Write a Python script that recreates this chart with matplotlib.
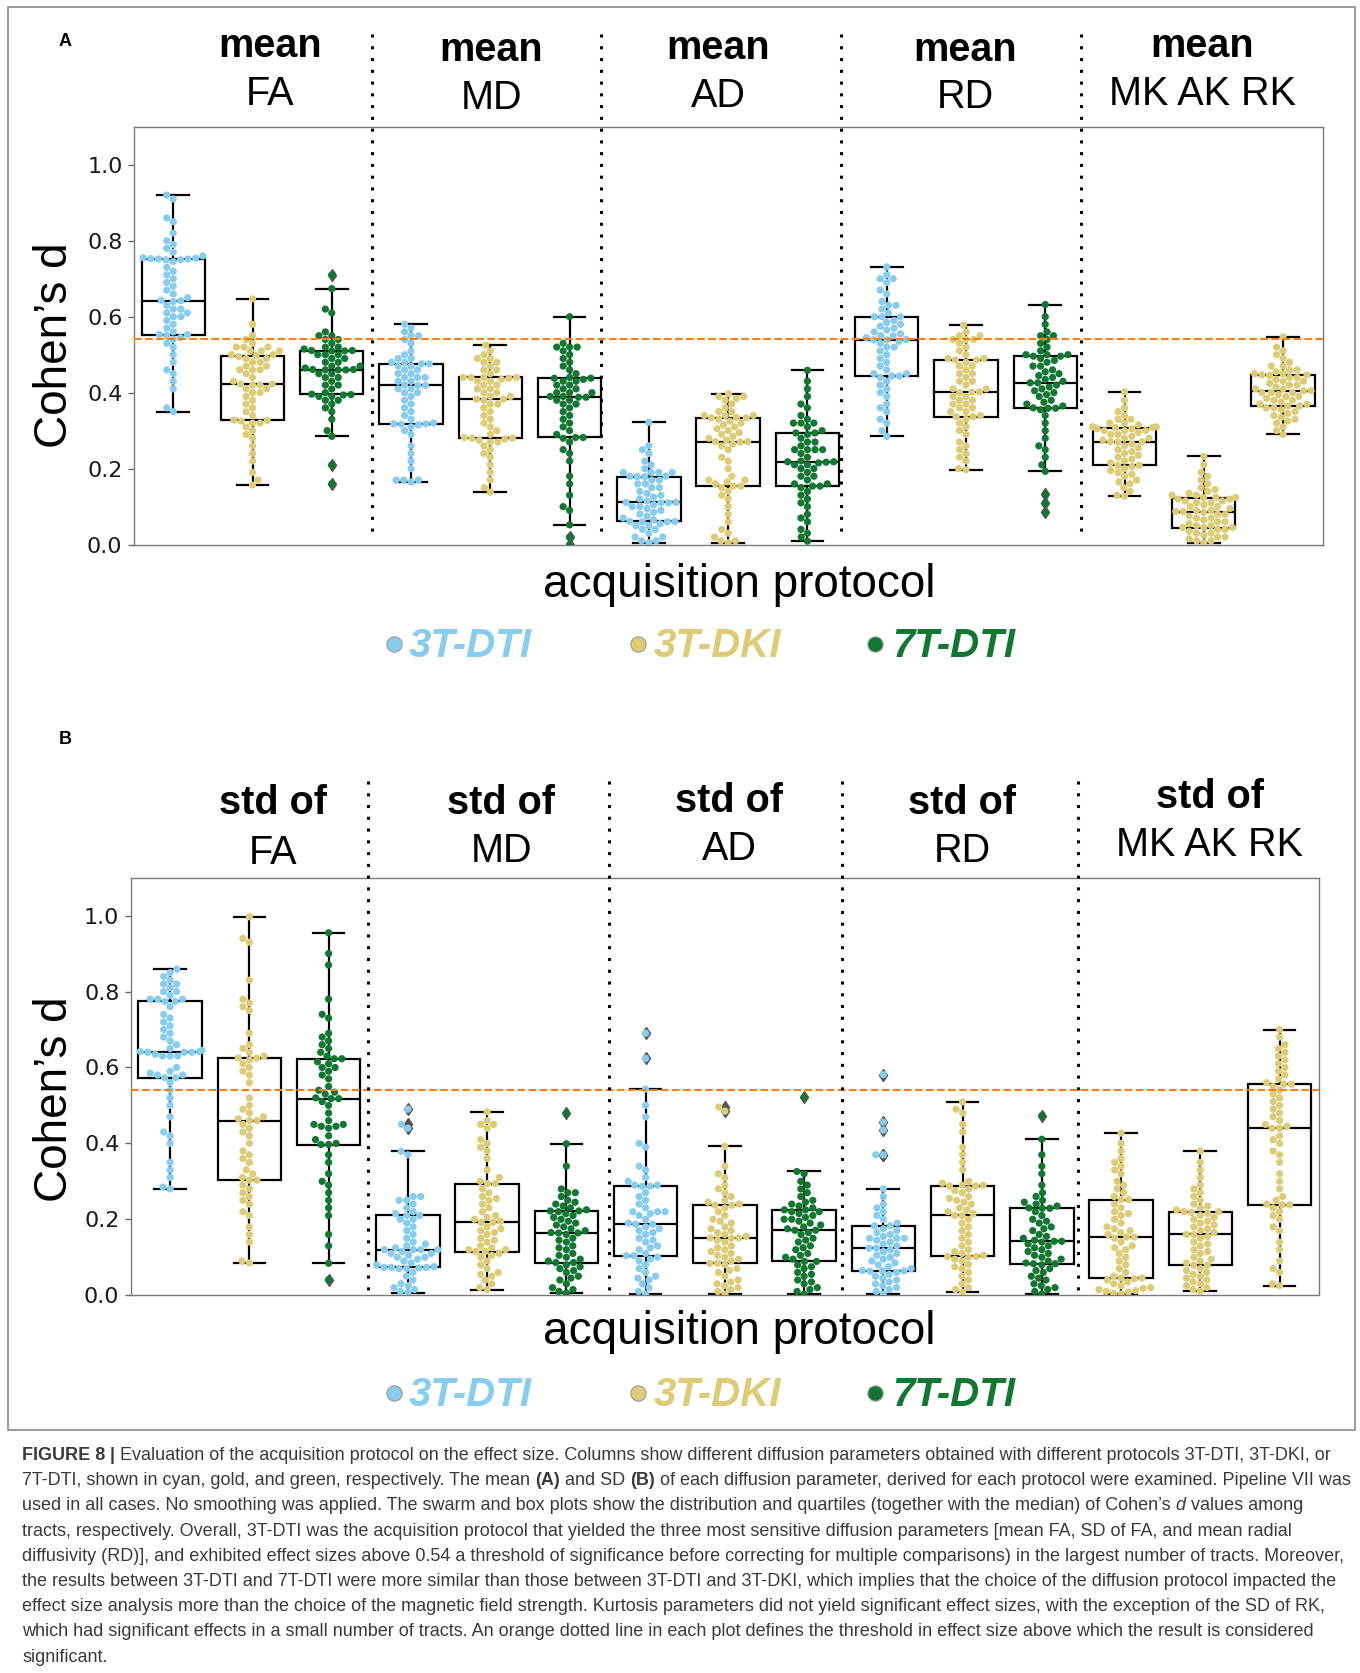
import matplotlib
matplotlib.use("Agg")
import matplotlib.pyplot as plt
import numpy as np
import pandas as pd
import seaborn as sns
from matplotlib.lines import Line2D
from matplotlib.patches import Rectangle
from matplotlib import font_manager

# ---------------- data (Cohen's d per tract) ----------------
protocols = ["3T-DTI", "3T-DKI", "7T-DTI"]
protocol_colors = ["#88CCEE", "#DDCC77", "#117733"]
slot_protocols = ["3T-DTI", "3T-DKI", "7T-DTI"] * 4 + ["3T-DKI"] * 3
group_names = ["FA", "MD", "AD", "RD", "MK AK RK"]
threshold = 0.54

mean_fa_3tdti = [0.35, 0.36, 0.41, 0.43, 0.45, 0.46, 0.48, 0.50, 0.52, 0.53, 0.54, 0.545, 0.55, 0.553,
                 0.553, 0.56, 0.57, 0.58, 0.59, 0.60, 0.60, 0.61, 0.61, 0.62, 0.62, 0.63, 0.64, 0.642,
                 0.643, 0.65, 0.66, 0.67, 0.68, 0.69, 0.70, 0.71, 0.72, 0.73, 0.745, 0.75, 0.75, 0.752,
                 0.752, 0.753, 0.754, 0.755, 0.76, 0.77, 0.78, 0.79, 0.80, 0.82, 0.85, 0.86, 0.91, 0.92]
mean_fa_3tdki = [0.157, 0.17, 0.19, 0.22, 0.24, 0.26, 0.28, 0.29, 0.30, 0.31, 0.32, 0.32, 0.325, 0.327,
                 0.328, 0.34, 0.35, 0.36, 0.37, 0.38, 0.39, 0.40, 0.40, 0.41, 0.41, 0.42, 0.42, 0.423,
                 0.423, 0.43, 0.44, 0.45, 0.46, 0.46, 0.46, 0.47, 0.47, 0.48, 0.48, 0.49, 0.49, 0.495,
                 0.497, 0.50, 0.50, 0.51, 0.51, 0.51, 0.52, 0.52, 0.52, 0.53, 0.54, 0.55, 0.58, 0.647]
mean_fa_7tdti = [0.16, 0.21, 0.285, 0.30, 0.33, 0.35, 0.36, 0.37, 0.38, 0.38, 0.39, 0.39, 0.394, 0.395,
                 0.396, 0.40, 0.41, 0.42, 0.42, 0.43, 0.44, 0.44, 0.45, 0.45, 0.46, 0.46, 0.46, 0.461,
                 0.461, 0.465, 0.47, 0.47, 0.48, 0.48, 0.49, 0.49, 0.50, 0.50, 0.50, 0.51, 0.51, 0.511,
                 0.511, 0.515, 0.52, 0.52, 0.53, 0.54, 0.54, 0.55, 0.55, 0.56, 0.61, 0.62, 0.674, 0.71]
mean_md_3tdti = [0.165, 0.17, 0.17, 0.17, 0.20, 0.22, 0.24, 0.26, 0.29, 0.30, 0.31, 0.315, 0.317, 0.318,
                 0.318, 0.32, 0.33, 0.34, 0.35, 0.36, 0.37, 0.38, 0.39, 0.40, 0.40, 0.41, 0.41, 0.419,
                 0.419, 0.42, 0.43, 0.43, 0.44, 0.44, 0.44, 0.45, 0.45, 0.46, 0.46, 0.47, 0.47, 0.476,
                 0.476, 0.48, 0.48, 0.49, 0.49, 0.50, 0.51, 0.53, 0.54, 0.55, 0.55, 0.56, 0.57, 0.58]
mean_md_3tdki = [0.138, 0.15, 0.17, 0.19, 0.21, 0.23, 0.24, 0.25, 0.26, 0.27, 0.27, 0.275, 0.278, 0.28,
                 0.28, 0.282, 0.29, 0.30, 0.31, 0.32, 0.33, 0.34, 0.35, 0.36, 0.37, 0.37, 0.38, 0.383,
                 0.383, 0.39, 0.39, 0.40, 0.40, 0.41, 0.41, 0.42, 0.42, 0.43, 0.43, 0.435, 0.438, 0.44,
                 0.44, 0.44, 0.44, 0.45, 0.46, 0.46, 0.47, 0.48, 0.48, 0.49, 0.49, 0.50, 0.51, 0.525]
mean_md_7tdti = [0.0, 0.02, 0.052, 0.09, 0.10, 0.13, 0.16, 0.18, 0.22, 0.24, 0.25, 0.27, 0.28, 0.282,
                 0.282, 0.29, 0.30, 0.31, 0.32, 0.33, 0.34, 0.35, 0.36, 0.37, 0.37, 0.38, 0.38, 0.388,
                 0.388, 0.39, 0.39, 0.40, 0.40, 0.40, 0.41, 0.41, 0.42, 0.42, 0.43, 0.43, 0.435, 0.438,
                 0.438, 0.44, 0.45, 0.46, 0.47, 0.48, 0.49, 0.50, 0.51, 0.52, 0.52, 0.52, 0.53, 0.60]
mean_ad_3tdti = [0.005, 0.01, 0.01, 0.02, 0.02, 0.03, 0.04, 0.04, 0.05, 0.05, 0.055, 0.06, 0.06, 0.061,
                 0.061, 0.065, 0.07, 0.075, 0.08, 0.085, 0.09, 0.095, 0.10, 0.10, 0.105, 0.11, 0.11, 0.111,
                 0.111, 0.115, 0.12, 0.125, 0.13, 0.135, 0.14, 0.15, 0.15, 0.16, 0.16, 0.17, 0.17, 0.179,
                 0.179, 0.18, 0.18, 0.19, 0.19, 0.19, 0.19, 0.20, 0.21, 0.22, 0.24, 0.25, 0.26, 0.322]
mean_ad_3tdki = [0.005, 0.01, 0.01, 0.02, 0.03, 0.04, 0.06, 0.08, 0.10, 0.12, 0.13, 0.14, 0.15, 0.154,
                 0.154, 0.16, 0.165, 0.17, 0.17, 0.18, 0.20, 0.22, 0.23, 0.25, 0.26, 0.265, 0.27, 0.271,
                 0.271, 0.275, 0.28, 0.285, 0.29, 0.295, 0.30, 0.305, 0.31, 0.315, 0.32, 0.325, 0.33, 0.334,
                 0.334, 0.335, 0.34, 0.34, 0.34, 0.35, 0.35, 0.36, 0.37, 0.38, 0.385, 0.39, 0.39, 0.397]
mean_ad_7tdti = [0.009, 0.02, 0.03, 0.04, 0.06, 0.07, 0.08, 0.10, 0.11, 0.12, 0.13, 0.14, 0.15, 0.154,
                 0.154, 0.16, 0.16, 0.17, 0.18, 0.18, 0.19, 0.20, 0.20, 0.21, 0.21, 0.215, 0.217, 0.218,
                 0.218, 0.22, 0.23, 0.24, 0.25, 0.25, 0.25, 0.25, 0.26, 0.27, 0.27, 0.28, 0.29, 0.294,
                 0.294, 0.30, 0.31, 0.32, 0.32, 0.32, 0.33, 0.34, 0.36, 0.37, 0.39, 0.41, 0.43, 0.459]
mean_rd_3tdti = [0.285, 0.30, 0.32, 0.33, 0.35, 0.36, 0.37, 0.39, 0.40, 0.41, 0.42, 0.43, 0.44, 0.444,
                 0.444, 0.45, 0.45, 0.46, 0.47, 0.48, 0.49, 0.50, 0.51, 0.52, 0.52, 0.53, 0.535, 0.539,
                 0.539, 0.54, 0.545, 0.55, 0.55, 0.555, 0.56, 0.565, 0.57, 0.575, 0.58, 0.585, 0.59, 0.60,
                 0.60, 0.60, 0.61, 0.62, 0.63, 0.63, 0.64, 0.66, 0.67, 0.69, 0.70, 0.70, 0.71, 0.731]
mean_rd_3tdki = [0.197, 0.20, 0.22, 0.23, 0.24, 0.25, 0.26, 0.27, 0.29, 0.30, 0.31, 0.32, 0.33, 0.337,
                 0.337, 0.34, 0.35, 0.35, 0.36, 0.36, 0.37, 0.37, 0.38, 0.38, 0.39, 0.39, 0.40, 0.402,
                 0.402, 0.41, 0.41, 0.42, 0.43, 0.43, 0.44, 0.45, 0.45, 0.46, 0.47, 0.47, 0.48, 0.486,
                 0.486, 0.49, 0.49, 0.50, 0.51, 0.52, 0.53, 0.54, 0.54, 0.54, 0.55, 0.55, 0.56, 0.578]
mean_rd_7tdti = [0.085, 0.11, 0.132, 0.193, 0.21, 0.23, 0.25, 0.26, 0.28, 0.30, 0.32, 0.34, 0.355, 0.359,
                 0.359, 0.36, 0.365, 0.37, 0.375, 0.38, 0.39, 0.395, 0.40, 0.405, 0.41, 0.415, 0.42, 0.426,
                 0.426, 0.43, 0.435, 0.44, 0.445, 0.45, 0.455, 0.46, 0.47, 0.47, 0.48, 0.485, 0.49, 0.496,
                 0.496, 0.50, 0.50, 0.50, 0.51, 0.52, 0.53, 0.54, 0.55, 0.55, 0.56, 0.58, 0.60, 0.632]
mean_mk_3tdki = [0.127, 0.13, 0.14, 0.15, 0.16, 0.165, 0.17, 0.18, 0.185, 0.19, 0.195, 0.20, 0.205, 0.209,
                 0.209, 0.215, 0.22, 0.225, 0.23, 0.235, 0.24, 0.245, 0.25, 0.255, 0.26, 0.265, 0.27, 0.271,
                 0.271, 0.275, 0.28, 0.28, 0.285, 0.29, 0.29, 0.295, 0.30, 0.30, 0.30, 0.305, 0.305, 0.308,
                 0.308, 0.31, 0.31, 0.31, 0.315, 0.32, 0.32, 0.33, 0.33, 0.34, 0.35, 0.36, 0.38, 0.402]
mean_ak_3tdki = [0.005, 0.01, 0.01, 0.015, 0.02, 0.02, 0.025, 0.03, 0.03, 0.035, 0.04, 0.04, 0.045, 0.045,
                 0.045, 0.05, 0.05, 0.055, 0.06, 0.06, 0.065, 0.07, 0.07, 0.075, 0.08, 0.08, 0.085, 0.087,
                 0.087, 0.09, 0.09, 0.095, 0.10, 0.10, 0.105, 0.11, 0.11, 0.115, 0.115, 0.12, 0.12, 0.124,
                 0.124, 0.125, 0.13, 0.13, 0.135, 0.14, 0.145, 0.15, 0.16, 0.17, 0.18, 0.19, 0.21, 0.232]
mean_rk_3tdki = [0.29, 0.30, 0.31, 0.32, 0.325, 0.33, 0.335, 0.34, 0.345, 0.35, 0.355, 0.36, 0.36, 0.365,
                 0.365, 0.37, 0.37, 0.375, 0.38, 0.38, 0.385, 0.39, 0.39, 0.395, 0.40, 0.40, 0.40, 0.405,
                 0.405, 0.41, 0.41, 0.415, 0.42, 0.42, 0.425, 0.43, 0.43, 0.435, 0.44, 0.44, 0.445, 0.447,
                 0.447, 0.45, 0.45, 0.455, 0.46, 0.46, 0.47, 0.47, 0.48, 0.49, 0.50, 0.51, 0.52, 0.547]

std_fa_3tdti = [0.28, 0.285, 0.31, 0.33, 0.35, 0.40, 0.42, 0.43, 0.47, 0.50, 0.52, 0.54, 0.56, 0.573,
                0.573, 0.58, 0.58, 0.585, 0.59, 0.60, 0.63, 0.63, 0.63, 0.635, 0.64, 0.64, 0.64, 0.642,
                0.642, 0.645, 0.65, 0.66, 0.67, 0.68, 0.69, 0.70, 0.71, 0.72, 0.73, 0.74, 0.76, 0.774,
                0.774, 0.78, 0.78, 0.78, 0.79, 0.80, 0.80, 0.81, 0.82, 0.82, 0.83, 0.84, 0.85, 0.859]
std_fa_3tdki = [0.085, 0.09, 0.14, 0.16, 0.18, 0.21, 0.22, 0.24, 0.25, 0.26, 0.27, 0.28, 0.29, 0.303,
                0.303, 0.31, 0.32, 0.33, 0.35, 0.36, 0.37, 0.38, 0.40, 0.42, 0.43, 0.44, 0.45, 0.46,
                0.46, 0.465, 0.47, 0.48, 0.49, 0.50, 0.52, 0.56, 0.58, 0.59, 0.60, 0.61, 0.62, 0.625,
                0.625, 0.63, 0.64, 0.65, 0.66, 0.69, 0.75, 0.76, 0.77, 0.78, 0.83, 0.93, 0.94, 0.997]
std_fa_7tdti = [0.041, 0.084, 0.13, 0.16, 0.21, 0.23, 0.25, 0.27, 0.29, 0.30, 0.32, 0.35, 0.37, 0.397,
                0.397, 0.40, 0.41, 0.42, 0.44, 0.445, 0.445, 0.45, 0.45, 0.46, 0.48, 0.50, 0.51, 0.518,
                0.518, 0.52, 0.53, 0.535, 0.54, 0.55, 0.57, 0.58, 0.59, 0.60, 0.60, 0.61, 0.615, 0.623,
                0.623, 0.63, 0.64, 0.65, 0.66, 0.67, 0.68, 0.69, 0.73, 0.74, 0.78, 0.87, 0.90, 0.955]
std_md_3tdti = [0.006, 0.01, 0.015, 0.02, 0.025, 0.03, 0.04, 0.05, 0.06, 0.07, 0.07, 0.072, 0.073, 0.073,
                0.073, 0.075, 0.08, 0.085, 0.09, 0.095, 0.10, 0.10, 0.105, 0.11, 0.11, 0.115, 0.12, 0.12,
                0.12, 0.12, 0.125, 0.13, 0.135, 0.14, 0.15, 0.16, 0.17, 0.18, 0.19, 0.20, 0.20, 0.21,
                0.21, 0.215, 0.22, 0.23, 0.24, 0.25, 0.25, 0.26, 0.26, 0.37, 0.379, 0.44, 0.45, 0.49]
std_md_3tdki = [0.015, 0.02, 0.03, 0.04, 0.05, 0.055, 0.06, 0.07, 0.08, 0.09, 0.10, 0.105, 0.11, 0.115,
                0.115, 0.12, 0.12, 0.125, 0.13, 0.14, 0.145, 0.15, 0.16, 0.165, 0.17, 0.175, 0.18, 0.192,
                0.192, 0.195, 0.20, 0.205, 0.21, 0.22, 0.23, 0.24, 0.25, 0.255, 0.26, 0.27, 0.28, 0.294,
                0.294, 0.30, 0.31, 0.33, 0.36, 0.38, 0.39, 0.40, 0.41, 0.44, 0.45, 0.45, 0.46, 0.483]
std_md_7tdti = [0.006, 0.01, 0.015, 0.02, 0.03, 0.04, 0.045, 0.05, 0.06, 0.065, 0.07, 0.075, 0.08, 0.086,
                0.086, 0.09, 0.095, 0.10, 0.105, 0.11, 0.12, 0.125, 0.13, 0.14, 0.145, 0.15, 0.16, 0.164,
                0.164, 0.165, 0.17, 0.175, 0.18, 0.185, 0.19, 0.195, 0.20, 0.205, 0.21, 0.215, 0.22, 0.222,
                0.222, 0.225, 0.23, 0.235, 0.24, 0.245, 0.25, 0.26, 0.27, 0.27, 0.28, 0.34, 0.399, 0.479]
std_ad_3tdti = [0.003, 0.01, 0.02, 0.03, 0.04, 0.045, 0.05, 0.06, 0.07, 0.08, 0.09, 0.095, 0.10, 0.104,
                0.104, 0.11, 0.12, 0.125, 0.13, 0.14, 0.145, 0.15, 0.16, 0.165, 0.17, 0.175, 0.18, 0.187,
                0.187, 0.19, 0.20, 0.21, 0.215, 0.22, 0.22, 0.22, 0.23, 0.24, 0.25, 0.26, 0.27, 0.287,
                0.287, 0.29, 0.29, 0.30, 0.31, 0.33, 0.34, 0.39, 0.40, 0.47, 0.50, 0.543, 0.624, 0.69]
std_ad_3tdki = [0.003, 0.01, 0.015, 0.02, 0.025, 0.03, 0.035, 0.04, 0.05, 0.06, 0.065, 0.07, 0.08, 0.084,
                0.084, 0.09, 0.095, 0.10, 0.105, 0.11, 0.115, 0.12, 0.125, 0.13, 0.14, 0.145, 0.15, 0.151,
                0.151, 0.155, 0.16, 0.165, 0.17, 0.175, 0.18, 0.19, 0.195, 0.20, 0.21, 0.22, 0.23, 0.237,
                0.237, 0.24, 0.245, 0.25, 0.26, 0.27, 0.28, 0.29, 0.31, 0.32, 0.34, 0.392, 0.485, 0.496]
std_ad_7tdti = [0.003, 0.01, 0.015, 0.02, 0.03, 0.035, 0.04, 0.05, 0.055, 0.06, 0.07, 0.075, 0.08, 0.089,
                0.089, 0.095, 0.10, 0.105, 0.11, 0.12, 0.125, 0.13, 0.14, 0.145, 0.15, 0.16, 0.165, 0.171,
                0.171, 0.175, 0.18, 0.185, 0.19, 0.195, 0.20, 0.20, 0.205, 0.21, 0.215, 0.22, 0.22, 0.225,
                0.225, 0.23, 0.235, 0.24, 0.245, 0.25, 0.26, 0.27, 0.28, 0.29, 0.30, 0.32, 0.326, 0.521]
std_rd_3tdti = [0.003, 0.01, 0.015, 0.02, 0.025, 0.03, 0.035, 0.04, 0.045, 0.05, 0.055, 0.06, 0.063, 0.064,
                0.064, 0.065, 0.07, 0.075, 0.08, 0.085, 0.09, 0.095, 0.10, 0.105, 0.11, 0.115, 0.12, 0.124,
                0.124, 0.13, 0.135, 0.14, 0.145, 0.15, 0.15, 0.15, 0.155, 0.16, 0.165, 0.17, 0.175, 0.183,
                0.183, 0.19, 0.20, 0.21, 0.22, 0.23, 0.24, 0.26, 0.28, 0.37, 0.37, 0.435, 0.456, 0.581]
std_rd_3tdki = [0.008, 0.015, 0.02, 0.03, 0.04, 0.05, 0.06, 0.07, 0.075, 0.08, 0.09, 0.095, 0.10, 0.102,
                0.102, 0.105, 0.11, 0.115, 0.12, 0.13, 0.14, 0.15, 0.16, 0.17, 0.18, 0.19, 0.20, 0.21,
                0.21, 0.215, 0.22, 0.225, 0.23, 0.24, 0.245, 0.25, 0.255, 0.26, 0.27, 0.275, 0.28, 0.288,
                0.288, 0.29, 0.29, 0.295, 0.30, 0.33, 0.35, 0.37, 0.39, 0.43, 0.45, 0.48, 0.49, 0.509]
std_rd_7tdti = [0.003, 0.01, 0.015, 0.02, 0.025, 0.03, 0.04, 0.045, 0.05, 0.06, 0.065, 0.07, 0.08, 0.083,
                0.083, 0.085, 0.09, 0.095, 0.10, 0.105, 0.11, 0.115, 0.12, 0.125, 0.13, 0.135, 0.14, 0.142,
                0.142, 0.145, 0.15, 0.155, 0.16, 0.17, 0.175, 0.18, 0.19, 0.195, 0.20, 0.21, 0.22, 0.229,
                0.229, 0.23, 0.235, 0.24, 0.245, 0.25, 0.26, 0.27, 0.29, 0.32, 0.34, 0.37, 0.411, 0.473]
std_mk_3tdki = [0.003, 0.005, 0.008, 0.01, 0.012, 0.015, 0.018, 0.02, 0.025, 0.03, 0.035, 0.04, 0.043, 0.045,
                0.045, 0.05, 0.06, 0.07, 0.08, 0.09, 0.10, 0.11, 0.12, 0.125, 0.13, 0.14, 0.15, 0.153,
                0.153, 0.16, 0.165, 0.17, 0.175, 0.18, 0.19, 0.20, 0.21, 0.215, 0.22, 0.23, 0.24, 0.252,
                0.252, 0.26, 0.27, 0.28, 0.29, 0.30, 0.32, 0.33, 0.34, 0.35, 0.36, 0.38, 0.40, 0.427]
std_ak_3tdki = [0.01, 0.015, 0.02, 0.025, 0.03, 0.035, 0.04, 0.045, 0.05, 0.055, 0.06, 0.065, 0.07, 0.079,
                0.079, 0.085, 0.09, 0.095, 0.10, 0.11, 0.115, 0.12, 0.13, 0.135, 0.14, 0.15, 0.155, 0.16,
                0.16, 0.165, 0.17, 0.175, 0.18, 0.185, 0.19, 0.195, 0.20, 0.205, 0.21, 0.215, 0.218, 0.22,
                0.22, 0.225, 0.23, 0.235, 0.24, 0.25, 0.26, 0.27, 0.28, 0.29, 0.31, 0.33, 0.35, 0.38]
std_rk_3tdki = [0.025, 0.03, 0.06, 0.07, 0.09, 0.12, 0.14, 0.17, 0.18, 0.20, 0.21, 0.22, 0.23, 0.238,
                0.238, 0.24, 0.25, 0.26, 0.28, 0.30, 0.32, 0.35, 0.37, 0.38, 0.40, 0.41, 0.42, 0.44,
                0.44, 0.445, 0.45, 0.46, 0.47, 0.48, 0.49, 0.50, 0.51, 0.52, 0.53, 0.54, 0.55, 0.556,
                0.556, 0.56, 0.57, 0.58, 0.59, 0.60, 0.61, 0.62, 0.63, 0.64, 0.65, 0.66, 0.68, 0.70]

panel_a_values = [mean_fa_3tdti, mean_fa_3tdki, mean_fa_7tdti,
                  mean_md_3tdti, mean_md_3tdki, mean_md_7tdti,
                  mean_ad_3tdti, mean_ad_3tdki, mean_ad_7tdti,
                  mean_rd_3tdti, mean_rd_3tdki, mean_rd_7tdti,
                  mean_mk_3tdki, mean_ak_3tdki, mean_rk_3tdki]
panel_b_values = [std_fa_3tdti, std_fa_3tdki, std_fa_7tdti,
                  std_md_3tdti, std_md_3tdki, std_md_7tdti,
                  std_ad_3tdti, std_ad_3tdki, std_ad_7tdti,
                  std_rd_3tdti, std_rd_3tdki, std_rd_7tdti,
                  std_mk_3tdki, std_ak_3tdki, std_rk_3tdki]

caption_lines = [
    [("FIGURE 8", "bold", "normal"), (" | ", "bold", "normal"),
     ("Evaluation of the acquisition protocol on the effect size. Columns show different diffusion parameters obtained with different protocols 3T-DTI, 3T-DKI, or", "normal", "normal")],
    [("7T-DTI, shown in cyan, gold, and green, respectively. The mean ", "normal", "normal"), ("(A)", "bold", "normal"),
     (" and SD ", "normal", "normal"), ("(B)", "bold", "normal"),
     (" of each diffusion parameter, derived for each protocol were examined. Pipeline VII was", "normal", "normal")],
    [("used in all cases. No smoothing was applied. The swarm and box plots show the distribution and quartiles (together with the median) of Cohen\u2019s ", "normal", "normal"),
     ("d", "normal", "italic"), (" values among", "normal", "normal")],
    [("tracts, respectively. Overall, 3T-DTI was the acquisition protocol that yielded the three most sensitive diffusion parameters [mean FA, SD of FA, and mean radial", "normal", "normal")],
    [("diffusivity (RD)], and exhibited effect sizes above 0.54 a threshold of significance before correcting for multiple comparisons) in the largest number of tracts. Moreover,", "normal", "normal")],
    [("the results between 3T-DTI and 7T-DTI were more similar than those between 3T-DTI and 3T-DKI, which implies that the choice of the diffusion protocol impacted the", "normal", "normal")],
    [("effect size analysis more than the choice of the magnetic field strength. Kurtosis parameters did not yield significant effect sizes, with the exception of the SD of RK,", "normal", "normal")],
    [("which had significant effects in a small number of tracts. An orange dotted line in each plot defines the threshold in effect size above which the result is considered", "normal", "normal")],
    [("significant.", "normal", "normal")],
]

# ---------------- figure ----------------
W, H = 1360, 1673
fig = plt.figure(figsize=(W / 100, H / 100), dpi=100)
SANS = "Liberation Sans"


def fx(p):
    return p / W


def fy(p):
    return 1 - p / H


color_map = dict(zip(protocols, protocol_colors))


def make_axes(left, top, right, bottom):
    return fig.add_axes([fx(left), fy(bottom), (right - left) / W, (bottom - top) / H])


def draw_panel(ax, values):
    positions = list(range(len(values)))
    lw = 1.6
    ax.boxplot(values, positions=positions, widths=0.8, patch_artist=True, whis=1.5,
               manage_ticks=False,
               boxprops=dict(facecolor="none", edgecolor="black", linewidth=lw),
               medianprops=dict(color="black", linewidth=lw),
               whiskerprops=dict(color="black", linewidth=lw),
               capprops=dict(color="black", linewidth=lw),
               flierprops=dict(marker="d", markerfacecolor="#555555", markeredgecolor="#555555",
                               markersize=6.0),
               zorder=1)
    rows = []
    for pos, (vals, proto) in enumerate(zip(values, slot_protocols)):
        for v in vals:
            rows.append((pos, proto, v))
    df = pd.DataFrame(rows, columns=["slot", "protocol", "d"])
    sns.swarmplot(data=df, x="slot", y="d", hue="protocol", hue_order=protocols,
                  palette=color_map, order=positions, size=5.2, ax=ax, legend=False,
                  zorder=3)
    ax.axhline(threshold, color="#ff7f0e", linestyle="--", linewidth=1.5, zorder=4)
    ax.set_xlim(-0.5, len(values) - 0.5)
    ax.set_ylim(0, 1.1)
    ax.set_xticks([])
    ax.set_xlabel("")
    ax.set_ylabel("")
    ax.set_yticks([0.0, 0.2, 0.4, 0.6, 0.8, 1.0])
    ax.set_yticklabels(["0.0", "0.2", "0.4", "0.6", "0.8", "1.0"])
    ax.tick_params(axis="y", labelsize=16, length=4, width=1, color="#666666",
                   labelcolor="#1a1a1a", pad=4)
    for s in ax.spines.values():
        s.set_color("#7a7a7a")
        s.set_linewidth(1.0)
    ax.set_facecolor("white")


axA = make_axes(133.6, 126.8, 1322.7, 544.6)
axB = make_axes(130.5, 877.7, 1319.2, 1295.2)
draw_panel(axA, panel_a_values)
draw_panel(axB, panel_b_values)

# outer frame
fig.add_artist(Rectangle((fx(8), fy(1430)), (1355 - 8) / W, (1430 - 7) / H,
                         transform=fig.transFigure, fill=False, edgecolor="#8a8a8a",
                         linewidth=1.2))

# dotted separators
def vdots(x, y0, y1):
    fig.add_artist(Line2D([fx(x), fx(x)], [fy(y0), fy(y1)], transform=fig.transFigure,
                          color="black", linewidth=2.2, linestyle=(0, (1, 2.85)),
                          dash_capstyle="butt"))

for x in [371.6, 600.6, 841.3, 1081.0]:
    vdots(x, 34, 537)
for x in [367.7, 609.3, 841.7, 1078.0]:
    vdots(x, 781, 1293)

# column titles
titles_a = [(269.7, 57.0, 105.4), (491.0, 60.7, 109.0), (718.0, 59.0, 107.0),
            (965.0, 60.7, 108.0), (1202.5, 57.0, 105.4)]
titles_b = [(273.0, 813.8, 863.5), (501.0, 813.8, 862.4), (729.0, 811.8, 859.7),
            (962.0, 813.8, 862.4), (1209.5, 808.0, 855.9)]
for (x, y1, y2), name in zip(titles_a, group_names):
    fig.text(fx(x), fy(y1), "mean", ha="center", va="baseline", fontsize=28.5,
             fontweight="bold", family=SANS)
    fig.text(fx(x), fy(y2), name, ha="center", va="baseline", fontsize=28.5, family=SANS)
for (x, y1, y2), name in zip(titles_b, group_names):
    fig.text(fx(x), fy(y1), "std of", ha="center", va="baseline", fontsize=28.5,
             fontweight="bold", family=SANS)
    fig.text(fx(x), fy(y2), name, ha="center", va="baseline", fontsize=28.5, family=SANS)

# panel letters
fig.text(fx(58.5), fy(46.4), "A", ha="left", va="baseline", fontsize=13, fontweight="bold", family=SANS)
fig.text(fx(58.5), fy(743.7), "B", ha="left", va="baseline", fontsize=13, fontweight="bold", family=SANS)

# axis labels
for yc in [345.6, 1099.6]:
    fig.text(fx(55), fy(yc), "Cohen\u2019s d", rotation=90, ha="center", va="center",
             fontsize=33, family=SANS)
for yb in [597.0, 1344.0]:
    fig.text(fx(739.5), fy(yb), "acquisition protocol", ha="center", va="baseline",
             fontsize=33, family=SANS)

# legends
circ_x = [394.0, 638.0, 875.0]
text_x = [409.0, 654.0, 892.0]
for yb, yc in [(657.0, 644.0), (1406.0, 1393.0)]:
    for cx, tx, proto, col in zip(circ_x, text_x, protocols, protocol_colors):
        fig.add_artist(Line2D([fx(cx)], [fy(yc)], transform=fig.transFigure, marker="o",
                              markersize=11, markerfacecolor=col, markeredgecolor="#9a9a9a",
                              markeredgewidth=0.8, linestyle="none"))
        fig.text(fx(tx), fy(yb), proto, ha="left", va="baseline", fontsize=29,
                 fontweight="bold", style="italic", color=col, family=SANS)

# caption
cap_family = SANS
try:
    font_manager.findfont(font_manager.FontProperties(family="Liberation Sans Narrow"),
                          fallback_to_default=False)
    cap_family = "Liberation Sans Narrow"
except Exception:
    cap_family = SANS

renderer = fig.canvas.get_renderer()
cap_color = "#3a3a3a"


def line_width(segments, size):
    total = 0.0
    for txt, weight, style in segments:
        t = fig.text(0, 0, txt, fontsize=size, fontweight=weight, style=style, family=cap_family)
        total += t.get_window_extent(renderer).width
        t.remove()
    return total


base = 12.0
w1 = line_width(caption_lines[0], base)
cap_size = base * (1311.0 / w1)

y0 = 1460.0
for i, segs in enumerate(caption_lines):
    x = 22.0
    yb = y0 + i * 25.2
    for txt, weight, style in segs:
        t = fig.text(fx(x), fy(yb), txt, fontsize=cap_size, fontweight=weight, style=style,
                     family=cap_family, color=cap_color, ha="left", va="baseline")
        x += t.get_window_extent(renderer).width

fig.savefig("out.png", dpi=100, facecolor="white")
